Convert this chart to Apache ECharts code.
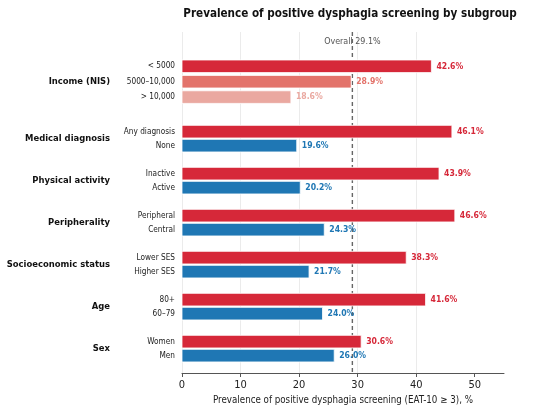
<!DOCTYPE html>
<html>
<head>
<meta charset="utf-8">
<script src="https://cdn.jsdelivr.net/npm/echarts@6/dist/echarts.min.js"></script>
<style>
  html, body { margin: 0; padding: 0; background: #fff; }
  #chart { width: 550px; height: 408px; }
</style>
</head>
<body>
<div id="chart"></div>
<script>
const groupNames = ['Income (NIS)', 'Medical diagnosis', 'Physical activity', 'Peripherality',
  'Socioeconomic status', 'Age', 'Sex'];
const rowLabels = ['< 5000', '5000–10,000', '> 10,000', 'Any diagnosis', 'None', 'Inactive', 'Active',
  'Peripheral', 'Central', 'Lower SES', 'Higher SES', '80+', '60–79', 'Women', 'Men'];
const rowGroup = [0, 0, 0, 1, 1, 2, 2, 3, 3, 4, 4, 5, 5, 6, 6];
const prevalence = [42.6, 28.9, 18.6, 46.1, 19.6, 43.9, 20.2, 46.6, 24.3, 38.3, 21.7, 41.6, 24.0, 30.6, 26.0];
const overall = 29.1;
const xTicks = [0, 10, 20, 30, 40, 50];

// colours: higher-risk rows red, reference rows blue, income in fading reds
const RED = '#d62839', BLUE = '#1f77b4';
const rowColors = ['#d62839', '#e3736b', '#eaa8a0', RED, BLUE, RED, BLUE, RED, BLUE, RED, BLUE, RED, BLUE, RED, BLUE];

// row slots, top to bottom (income rows a bit looser)
const slots = [];
let pos = 0;
rowLabels.forEach((_, i) => {
  if (i > 0) {
    if (rowGroup[i] === rowGroup[i - 1]) pos += rowGroup[i] === 0 ? 1.1 : 1;
    else pos += rowGroup[i - 1] === 0 ? 2.47 : 2;
  }
  slots.push(pos);
});
const groupCenters = groupNames.map((_, g) => {
  const ys = slots.filter((_, i) => rowGroup[i] === g);
  return (Math.min(...ys) + Math.max(...ys)) / 2;
});
const yMin = -2.45, yMax = slots[slots.length - 1] + 1.24;

const FONT = '"DejaVu Sans Condensed", "DejaVu Sans"';
const font = (size, bold) => (bold ? 'bold ' : '') + size + 'px ' + FONT;

const chart = echarts.init(document.getElementById('chart'), null, { renderer: 'canvas' });

chart.setOption({
  animation: false,
  textStyle: { fontFamily: FONT },
  title: {
    text: 'Prevalence of positive dysphagia screening by subgroup',
    left: 345, top: 3, textAlign: 'center',
    textStyle: { fontFamily: FONT, fontSize: 11.6, fontWeight: 'bold', color: '#111' }
  },
  grid: { left: 182, right: 46, top: 32, bottom: 35, outerBoundsMode: 'none', containLabel: false },
  xAxis: {
    type: 'value', min: 0, max: 55, interval: 10,
    name: 'Prevalence of positive dysphagia screening (EAT-10 ≥ 3), %',
    nameLocation: 'middle', nameGap: 20,
    nameTextStyle: { fontFamily: FONT, fontSize: 9.7, color: '#222' },
    axisLine: { show: true, onZero: false, lineStyle: { color: '#555', width: 1 } },
    axisTick: { show: true, length: 4, lineStyle: { color: '#555' }, customValues: xTicks },
    axisLabel: { fontFamily: FONT, fontSize: 11, color: '#222', margin: 7, customValues: xTicks },
    splitLine: { show: true, showMaxLine: false, lineStyle: { color: '#e6e6e6', width: 0.8 } }
  },
  yAxis: { type: 'value', inverse: true, min: yMin, max: yMax, show: false, splitLine: { show: false } },
  series: [
    {
      // reference line for the overall prevalence
      type: 'custom',
      data: [[overall]],
      renderItem: (params, api) => {
        const top = api.coord([api.value(0), yMin]);
        const bot = api.coord([api.value(0), yMax]);
        return {
          type: 'group',
          children: [
            { type: 'line', shape: { x1: top[0], y1: top[1], x2: bot[0], y2: bot[1] },
              style: { stroke: '#666', lineWidth: 1.4, lineDash: [4, 3] } },
            { type: 'text', x: top[0], y: top[1] + 10,
              style: { text: 'Overall ' + api.value(0).toFixed(1) + '%', fill: '#555',
                font: font(8.9), align: 'center', verticalAlign: 'middle' } }
          ]
        };
      }
    },
    {
      type: 'custom',
      data: prevalence.map((v, i) => [v, slots[i], i]),
      encode: { x: 0, y: 1 },
      renderItem: (params, api) => {
        const i = api.value(2);
        const v = api.value(0);
        const s = api.coord([0, api.value(1)]);
        const e = api.coord([v, api.value(1)]);
        const h = api.size([0, 0.9])[1];
        const c = rowColors[i];
        return {
          type: 'group',
          children: [
            { type: 'rect', shape: { x: s[0], y: s[1] - h / 2, width: e[0] - s[0], height: h },
              style: { fill: c, stroke: '#fff', lineWidth: 0.8 } },
            { type: 'text', x: e[0] + 5, y: e[1],
              style: { text: v.toFixed(1) + '%', fill: c, font: font(8.6, true),
                align: 'left', verticalAlign: 'middle' } },
            { type: 'text', x: params.coordSys.x - 7, y: s[1],
              style: { text: rowLabels[i], fill: '#222', font: font(8.2),
                align: 'right', verticalAlign: 'middle' } }
          ]
        };
      }
    },
    {
      type: 'custom',
      data: groupCenters.map((y, g) => [0, y, g]),
      encode: { x: 0, y: 1 },
      renderItem: (params, api) => {
        const p = api.coord([0, api.value(1)]);
        return {
          type: 'text', x: params.coordSys.x - 72, y: p[1],
          style: { text: groupNames[api.value(2)], fill: '#111', font: font(9.4, true),
            align: 'right', verticalAlign: 'middle' }
        };
      }
    }
  ]
});
</script>
</body>
</html>
